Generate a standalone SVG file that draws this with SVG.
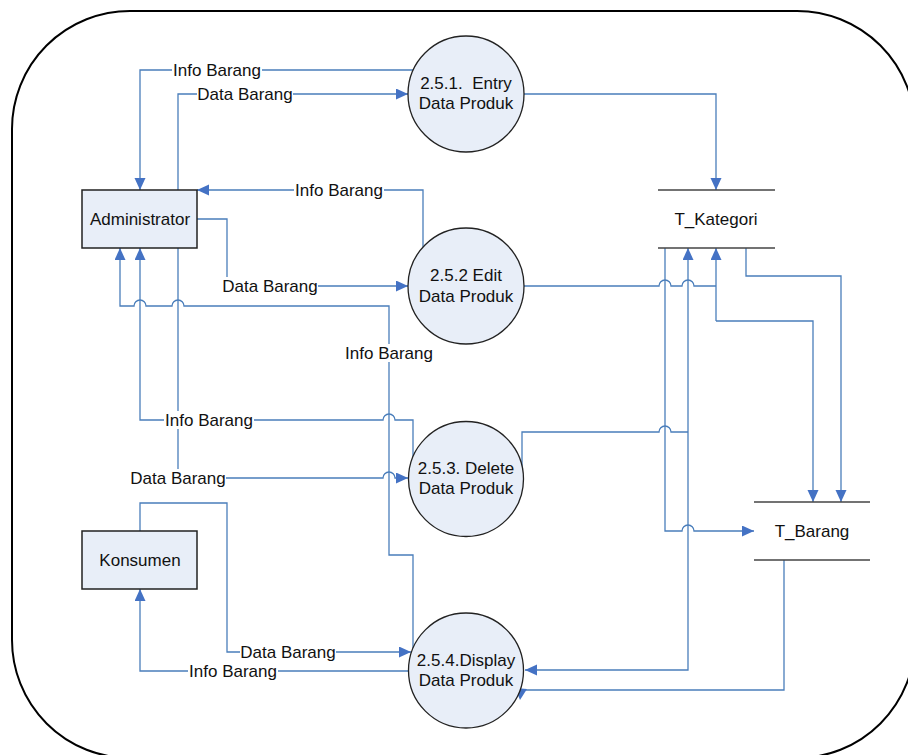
<svg xmlns="http://www.w3.org/2000/svg" width="908" height="755" viewBox="0 0 908 755">
<style>
text{font-family:"Liberation Sans",Arial,sans-serif;font-size:17px;fill:#111;text-anchor:middle}
.c{fill:none;stroke:#4A7EBB;stroke-width:1.3}
.proc{fill:#E8EEF8;stroke:#222;stroke-width:1.3}
.ent{fill:#E8EEF8;stroke:#222;stroke-width:1.5}
.st{stroke:#444;stroke-width:1.6}
.lb{fill:#fff}
</style>
<defs>
<marker id="a" markerUnits="userSpaceOnUse" markerWidth="13" markerHeight="12" refX="12" refY="5.5" orient="auto">
<path d="M0,0 L12,5.5 L0,11 z" fill="#4472C4"/>
</marker>
</defs>
<rect x="12" y="11" width="903" height="747" rx="118" ry="118" fill="none" stroke="#000" stroke-width="2"/>

<g id="connectors">
<path class="c" d="M413,70 H140 V190" marker-end="url(#a)"/>
<path class="c" d="M178,190 V94 H408" marker-end="url(#a)"/>
<path class="c" d="M524,94 H716 V190" marker-end="url(#a)"/>
<path class="c" d="M423,248 V190 H197" marker-end="url(#a)"/>
<path class="c" d="M197,219 H227 V286 H408" marker-end="url(#a)"/>
<path class="c" d="M524,286 H659 A6,6 0 0 1 671,286 H682 A6,6 0 0 1 694,286 H716"/>
<path class="c" d="M716,321 V248" marker-end="url(#a)"/>
<path class="c" d="M716,321 H813 V502" marker-end="url(#a)"/>
<path class="c" d="M746,248 V276 H841 V502" marker-end="url(#a)"/>
<path class="c" d="M665,248 V531 H682 A6,6 0 0 1 694,531 H754" marker-end="url(#a)"/>
<path class="c" d="M688,432 V248" marker-end="url(#a)"/>
<path class="c" d="M688,432 V670 H525" marker-end="url(#a)"/>
<path class="c" d="M522,468 V432 H659 A6,6 0 0 1 671,432 H688"/>
<path class="c" d="M784,560 V690 H521"/>
<polygon points="515,688 527,689 520,700" fill="#4472C4"/>
<path class="c" d="M413,458 V420 H395 A6,6 0 0 0 383,420 H140 V248" marker-end="url(#a)"/>
<path class="c" d="M178,248 V478 H383 A6,6 0 0 1 395,478 H408" marker-end="url(#a)"/>
<path class="c" d="M413,648 V555 H389 V306 H184 A6,6 0 0 0 172,306 H146 A6,6 0 0 0 134,306 H120 V248" marker-end="url(#a)"/>
<path class="c" d="M140,531 V503 H227 V652 H411" marker-end="url(#a)"/>
<path class="c" d="M409,671 H140 V589" marker-end="url(#a)"/>
</g>

<g id="labels">
<rect class="lb" x="172" y="61" width="90" height="18"/><text x="217" y="76">Info Barang</text>
<rect class="lb" x="197" y="85" width="96" height="18"/><text x="245" y="100">Data Barang</text>
<rect class="lb" x="294" y="181" width="90" height="18"/><text x="339" y="196">Info Barang</text>
<rect class="lb" x="222" y="277" width="96" height="18"/><text x="270" y="292">Data Barang</text>
<rect class="lb" x="344" y="344" width="90" height="18"/><text x="389" y="359">Info Barang</text>
<rect class="lb" x="164" y="411" width="90" height="18"/><text x="209" y="426">Info Barang</text>
<rect class="lb" x="130" y="469" width="96" height="18"/><text x="178" y="484">Data Barang</text>
<rect class="lb" x="240" y="644" width="96" height="17"/><text x="288" y="658">Data Barang</text>
<rect class="lb" x="188" y="663" width="90" height="17"/><text x="233" y="677">Info Barang</text>
</g>

<g id="administrator">
<rect class="ent" x="82" y="190" width="115" height="58"/>
<text x="140" y="225">Administrator</text>
</g>
<g id="konsumen">
<rect class="ent" x="82" y="531" width="115" height="58"/>
<text x="140" y="566">Konsumen</text>
</g>

<g id="p251">
<circle class="proc" cx="466" cy="94" r="58"/>
<text x="466" y="89" style="white-space:pre">2.5.1.  Entry</text>
<text x="466" y="109">Data Produk</text>
</g>
<g id="p252">
<circle class="proc" cx="466" cy="286" r="58"/>
<text x="466" y="281">2.5.2 Edit</text>
<text x="466" y="302">Data Produk</text>
</g>
<g id="p253">
<circle class="proc" cx="466" cy="479" r="57.5"/>
<text x="466" y="474">2.5.3. Delete</text>
<text x="466" y="494">Data Produk</text>
</g>
<g id="p254">
<circle class="proc" cx="466" cy="670.5" r="57.5"/>
<text x="466" y="666">2.5.4.Display</text>
<text x="466" y="686">Data Produk</text>
</g>

<g id="t_kategori">
<line class="st" x1="658" y1="190" x2="775" y2="190"/>
<line class="st" x1="658" y1="248" x2="775" y2="248"/>
<text x="716" y="225">T_Kategori</text>
</g>
<g id="t_barang">
<line class="st" x1="754" y1="502" x2="870" y2="502"/>
<line class="st" x1="754" y1="560" x2="870" y2="560"/>
<text x="812" y="537">T_Barang</text>
</g>
</svg>
